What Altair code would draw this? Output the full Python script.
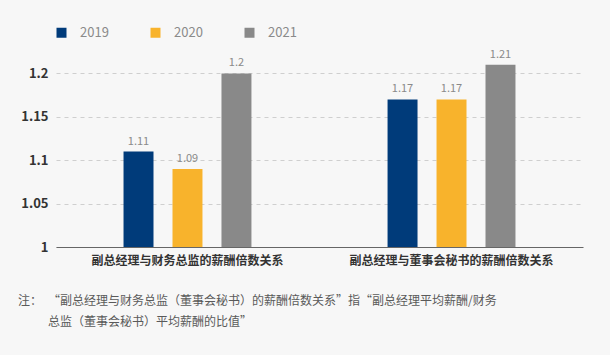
import altair as alt
import pandas as pd

categories = ["副总经理与财务总监的薪酬倍数关系", "副总经理与董事会秘书的薪酬倍数关系"]
years = ["2019", "2020", "2021"]
values_2019 = [1.11, 1.17]
values_2020 = [1.09, 1.17]
values_2021 = [1.2, 1.21]
y_ticks = [1, 1.05, 1.1, 1.15, 1.2]
note_lines = [
    "“副总经理与财务总监（董事会秘书）的薪酬倍数关系”指“副总经理平均薪酬/财务",
    "总监（董事会秘书）平均薪酬的比值”",
]
note_prefix = "注："
colors = ["#003b7a", "#f8b32c", "#898989"]

rows = []
for i, c in enumerate(categories):
    for y, vals in zip(years, [values_2019, values_2020, values_2021]):
        rows.append({"cat": c, "year": y, "value": vals[i]})
df = pd.DataFrame(rows)

FONT = "Noto Sans CJK SC"

base = alt.Chart(df).encode(
    x=alt.X("cat:N", sort=categories, title=None,
            scale=alt.Scale(paddingInner=0.33, paddingOuter=0.163),
            axis=alt.Axis(labelAngle=0, labelFontSize=12, labelFontWeight="bold",
                          labelColor="#333333", labelPadding=8, ticks=False,
                          labelLimit=0,
                          domainColor="#666666", domainWidth=1.2, labelFont=FONT)),
    xOffset=alt.XOffset("year:N", sort=years,
                        scale=alt.Scale(paddingInner=0.388, paddingOuter=0.5)),
    y=alt.Y("value:Q", title=None,
            scale=alt.Scale(domain=[1, 1.25], nice=False, zero=False),
            axis=alt.Axis(values=y_ticks, format="~g", labelFontSize=13,
                          labelFontWeight="bold", labelColor="#333333",
                          labelPadding=8, ticks=False, domain=False,
                          grid=True, gridDash=[4, 4], gridColor="#cfcfcf",
                          labelFont=FONT)),
)

bars = base.mark_bar().encode(
    y2=alt.datum(y_ticks[0]),
    color=alt.Color("year:N", sort=years,
                    scale=alt.Scale(domain=years, range=colors),
                    legend=alt.Legend(title=None, orient="none", direction="horizontal",
                                      legendX=-1, legendY=-4, symbolType="square",
                                      symbolSize=100, symbolStrokeWidth=0,
                                      labelFontSize=13, labelColor="#8a8a8a",
                                      labelOffset=12, columnPadding=40,
                                      labelFont=FONT)),
)

labels = base.mark_text(baseline="bottom", dy=-5, fontSize=11, color="#8a8a8a",
                        font=FONT).encode(
    text=alt.Text("value:Q", format="~g"),
)

note = alt.Chart(pd.DataFrame({"t": ["\n".join(note_lines)]})).mark_text(
    align="left", baseline="middle", fontSize=12, color="#5a5a5a", font=FONT,
    lineBreak="\n", lineHeight=21,
).encode(x=alt.value(-8), y=alt.value(271), text="t:N")

prefix = alt.Chart(pd.DataFrame({"t": [note_prefix]})).mark_text(
    align="left", baseline="middle", fontSize=12, color="#5a5a5a", font=FONT
).encode(x=alt.value(-38), y=alt.value(271), text="t:N")

chart = alt.layer(bars, labels, note, prefix).properties(
    width=527, height=217,
    autosize=alt.AutoSizeParams(type="none"),
    padding={"left": 56, "top": 30, "right": 27, "bottom": 108},
    background="#f7f7f7",
).configure_view(stroke=None)

chart.save("out.html", embed_options={"renderer": "svg", "actions": False})
